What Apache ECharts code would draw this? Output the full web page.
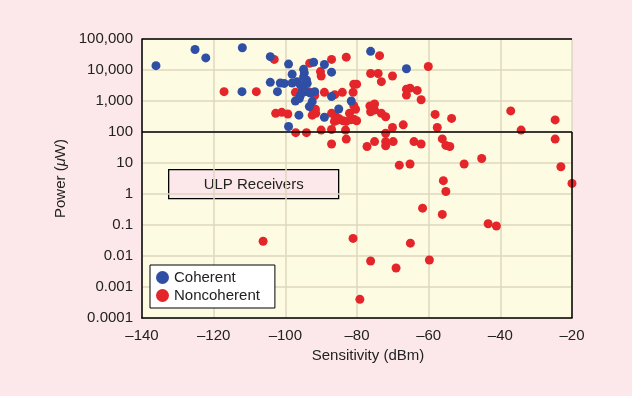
<!DOCTYPE html>
<html>
<head>
<meta charset="utf-8">
<script src="https://cdn.jsdelivr.net/npm/echarts@6/dist/echarts.min.js"></script>
<style>
  html, body { margin: 0; padding: 0; background: #fce8ea; }
  #chart { width: 632px; height: 396px; }
</style>
</head>
<body>
<div id="chart"></div>
<script>
// 刻度文字
const yTickLabels = ['0.0001', '0.001', '0.01', '0.1', '1', '10', '100', '1,000', '10,000', '100,000']
const seriesNames = ['Coherent', 'Noncoherent']

// [sensitivity dBm, power uW]
const coherentPoints = [
  [-136.1, 13800], [-125.2, 46000], [-122.2, 24500], [-112, 52000], [-104.2, 27000],
  [-99.1, 15500], [-98.1, 7300], [-104.2, 4000], [-101.4, 3800], [-100.3, 3700],
  [-98.1, 3800], [-96.7, 4200], [-95.8, 3300], [-102.2, 2000], [-112.1, 2000],
  [-94.9, 10500], [-94.7, 8100], [-94.9, 6000], [-94.1, 4800], [-93.9, 3700],
  [-95.2, 2400], [-94.4, 2000], [-93.0, 1800], [-91.8, 2000], [-97.2, 1000],
  [-96.1, 1200], [-92.5, 950], [-93.3, 660], [-96.2, 350], [-99.1, 150],
  [-92.1, 17800], [-89.1, 15000], [-87.1, 8500], [-76.2, 40000], [-66.2, 11000],
  [-87.1, 1400], [-81.6, 1000], [-85.1, 550], [-89.1, 300], [-95.8, 1500]
]

const noncoherentPoints = [
  [-103.1, 22000], [-93.2, 16500], [-87.1, 22000], [-83.0, 26000], [-73.7, 29000],
  [-60.1, 13000], [-90.2, 8900], [-90.0, 6400], [-76.2, 7700], [-74.1, 7700],
  [-70.1, 6400], [-73.2, 4200], [-80.9, 3500], [-80.1, 3500], [-66.2, 2400],
  [-65.2, 2600], [-63.2, 2200], [-66.2, 1550], [-62.1, 1100], [-117.1, 2000],
  [-108.1, 2000], [-97.2, 1900], [-93.5, 2000], [-92.3, 1700], [-91.8, 1500],
  [-89.1, 1900], [-84.1, 1900], [-81.1, 1900], [-86.2, 1600], [-102.7, 400],
  [-101.0, 430], [-99.3, 380], [-92.5, 580], [-91.6, 540], [-92.5, 350],
  [-91.5, 400], [-87.1, 400], [-86.2, 350], [-85.1, 275], [-86.3, 220],
  [-85.6, 240], [-83.9, 230], [-83.0, 220], [-82.1, 400], [-81.6, 250],
  [-80.9, 260], [-80.1, 230], [-80.9, 700], [-80.4, 540], [-76.4, 690],
  [-75.1, 800], [-76.2, 450], [-75.1, 510], [-73.2, 400], [-72.0, 310],
  [-70.1, 140], [-67.1, 170], [-72.0, 91], [-97.1, 95], [-94.1, 95],
  [-90.0, 115], [-87.1, 120], [-83.2, 115], [-87.1, 41], [-83.0, 59],
  [-77.2, 34], [-75.1, 49], [-72.0, 49], [-72.0, 36], [-69.9, 49],
  [-64.1, 49], [-62.1, 41], [-58.2, 370], [-53.6, 275], [-57.6, 140],
  [-56.2, 60], [-55.2, 37], [-54.1, 34], [-68.2, 8.5], [-65.2, 9.3],
  [-50.1, 9.3], [-45.2, 14], [-37.1, 480], [-34.2, 115], [-24.7, 245],
  [-24.7, 59], [-23.1, 7.6], [-20.0, 2.2], [-55.9, 2.7], [-55.2, 1.2],
  [-61.7, 0.35], [-56.2, 0.22], [-43.4, 0.11], [-41.1, 0.093], [-81.1, 0.037],
  [-65.1, 0.026], [-76.2, 0.0069], [-69.1, 0.0041], [-59.8, 0.0074], [-79.2, 0.0004],
  [-106.2, 0.030]
]

const FONT = '"Liberation Sans", Arial, Helvetica, sans-serif'
const chart = echarts.init(document.getElementById('chart'))

chart.setOption({
  backgroundColor: '#fce8ea',
  textStyle: { fontFamily: FONT },
  grid: {
    left: 142, right: 60, top: 39, bottom: 78,
    show: true, backgroundColor: '#fefbe3', borderWidth: 0
  },
  legend: {
    orient: 'vertical',
    left: 150, top: 265,
    backgroundColor: '#fff',
    borderColor: '#000', borderWidth: 1,
    padding: [5, 15, 5, 6],
    itemGap: 3,
    icon: 'circle',
    itemWidth: 13, itemHeight: 13,
    textStyle: { fontFamily: FONT, fontSize: 15, color: '#222' },
    data: seriesNames
  },
  xAxis: {
    type: 'value',
    min: -140, max: -20, interval: 20,
    name: 'Sensitivity (dBm)',
    nameLocation: 'middle',
    nameGap: 30,
    nameTextStyle: { fontFamily: FONT, fontSize: 15, color: '#222', padding: [0, 0, 0, 22] },
    axisLine: { lineStyle: { color: '#000', width: 1.5 } },
    axisTick: { show: false },
    axisLabel: {
      fontFamily: FONT, fontSize: 15, color: '#222', margin: 10,
      formatter: v => v < 0 ? '\u2013' + Math.abs(v) : String(v)
    },
    splitLine: { show: true, lineStyle: { color: '#ddd7bd', width: 1.5 } }
  },
  yAxis: {
    type: 'log',
    logBase: 10,
    min: 0.0001, max: 100000, interval: 1,
    name: 'Power ({i|\u03bc}W)',
    nameLocation: 'middle',
    nameGap: 72,
    nameTextStyle: {
      fontFamily: FONT, fontSize: 15, color: '#222',
      padding: [0, 0, 0, 0],
      rich: { i: { fontFamily: FONT, fontSize: 15, fontStyle: 'italic', color: '#222' } }
    },
    axisLine: { show: true, lineStyle: { color: '#000', width: 1.5 } },
    axisTick: { show: false },
    axisLabel: {
      fontFamily: FONT, fontSize: 15, color: '#222', margin: 9,
      formatter: v => yTickLabels[Math.round(Math.log10(v)) + 4] || ''
    },
    splitLine: { show: true, lineStyle: { color: '#ddd7bd', width: 1.5 } }
  },
  graphic: [{
    type: 'group',
    left: 168, top: 169,
    children: [
      {
        type: 'rect',
        shape: { x: 0, y: 0, width: 170, height: 29 },
        style: { fill: '#fce8ea', stroke: '#000', lineWidth: 1.3 }
      },
      {
        type: 'text',
        x: 85, y: 15,
        style: {
          text: 'ULP Receivers', fontFamily: FONT, fontSize: 15, fill: '#222',
          align: 'center', verticalAlign: 'middle'
        }
      }
    ]
  }],
  series: [
    {
      name: seriesNames[0],
      type: 'scatter',
      symbolSize: 9,
      itemStyle: { color: '#2f4fa4', opacity: 1 },
      data: coherentPoints,
      z: 3
    },
    {
      name: seriesNames[1],
      type: 'scatter',
      symbolSize: 9,
      itemStyle: { color: '#e4262a', opacity: 1 },
      data: noncoherentPoints,
      z: 2,
      markLine: {
        silent: true,
        symbol: 'none',
        label: { show: false },
        lineStyle: { color: '#000', width: 1.5, type: 'solid' },
        data: [
          { yAxis: 100 },
          { yAxis: 100000 },
          [{ coord: [-20, 0.0001] }, { coord: [-20, 100] }]
        ]
      }
    }
  ]
})
</script>
</body>
</html>
